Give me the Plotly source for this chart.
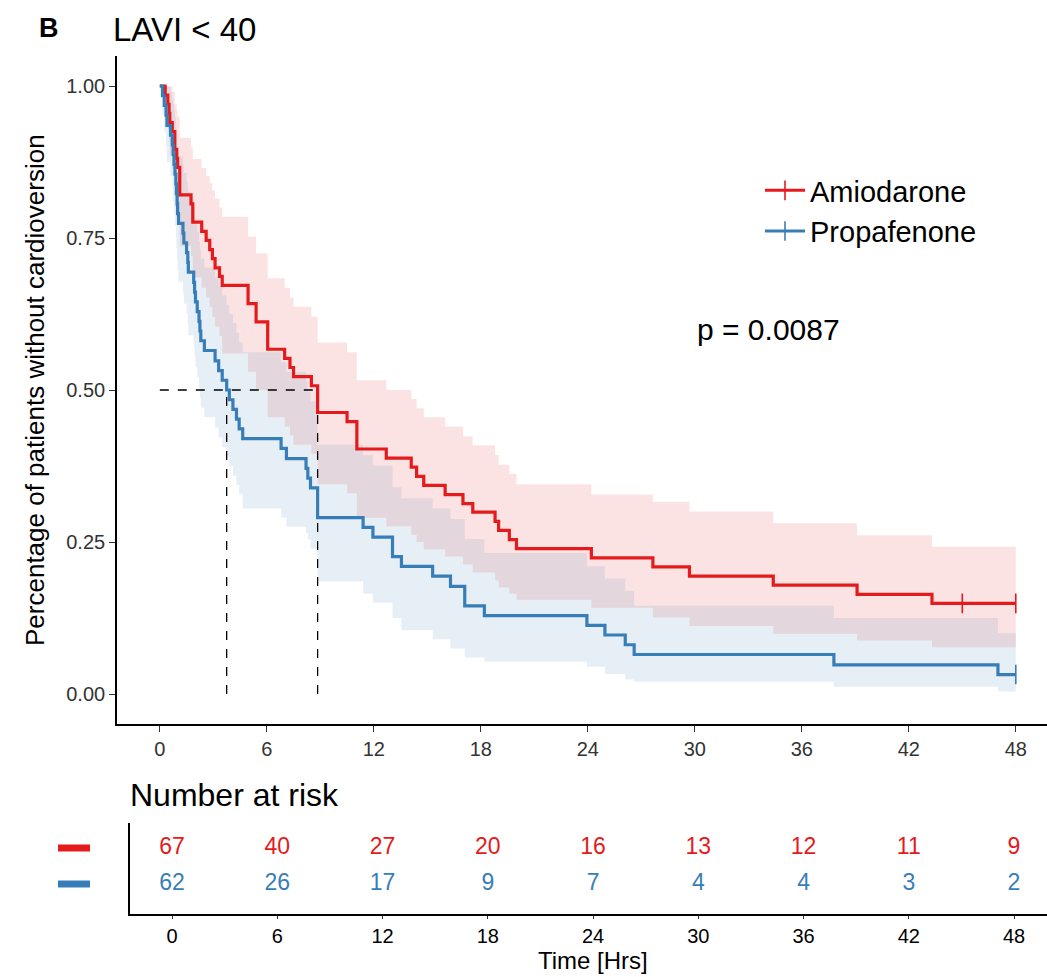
import plotly.graph_objects as go

# ---------------- data ----------------
groups = ["Amiodarone", "Propafenone"]

amio_time = [0, 0.30, 0.45, 0.52, 0.56, 0.70, 0.84, 0.95, 1.00, 1.12, 1.75, 1.85, 2.35, 2.60,
             2.80, 2.95, 3.10, 3.35, 3.50, 4.95, 5.40, 6.05, 7.00, 7.30, 7.50, 8.50, 8.85,
             10.50, 11.05, 12.70, 14.10, 14.40, 14.80, 16.00, 17.00, 17.55, 18.80, 19.00,
             19.60, 20.00, 24.20, 27.65, 29.70, 34.40, 39.10, 43.30, 48.00]
amio_surv = [1.000, 0.985, 0.970, 0.955, 0.940, 0.925, 0.896, 0.881, 0.866, 0.821, 0.806, 0.776,
             0.761, 0.746, 0.731, 0.716, 0.701, 0.687, 0.672, 0.642, 0.612, 0.567, 0.552, 0.537,
             0.522, 0.507, 0.463, 0.448, 0.403, 0.388, 0.373, 0.358, 0.343, 0.328, 0.313, 0.299,
             0.284, 0.269, 0.254, 0.239, 0.224, 0.209, 0.194, 0.179, 0.164, 0.149, 0.149]
amio_upper = [1.000, 1.000, 1.000, 1.000, 0.999, 0.990, 0.970, 0.960, 0.950, 0.915, 0.900, 0.880,
              0.865, 0.852, 0.840, 0.828, 0.815, 0.800, 0.785, 0.752, 0.725, 0.684, 0.668, 0.652,
              0.637, 0.621, 0.578, 0.562, 0.516, 0.500, 0.485, 0.470, 0.455, 0.440, 0.424, 0.409,
              0.393, 0.377, 0.362, 0.345, 0.328, 0.316, 0.300, 0.281, 0.261, 0.242, 0.242]
amio_lower = [1.000, 0.957, 0.930, 0.907, 0.886, 0.864, 0.826, 0.808, 0.790, 0.737, 0.720, 0.685,
              0.668, 0.652, 0.636, 0.620, 0.604, 0.589, 0.560, 0.530, 0.500, 0.455, 0.440, 0.425,
              0.410, 0.395, 0.345, 0.330, 0.290, 0.276, 0.262, 0.250, 0.238, 0.226, 0.213, 0.200,
              0.187, 0.175, 0.165, 0.155, 0.142, 0.126, 0.112, 0.099, 0.088, 0.077, 0.077]

prop_time = [0, 0.15, 0.25, 0.35, 0.40, 0.60, 0.70, 0.75, 0.80, 0.85, 0.90, 0.93, 0.97, 1.00,
             1.05, 1.30, 1.35, 1.50, 1.57, 1.60, 1.90, 1.95, 2.00, 2.10, 2.20, 2.25, 2.30, 2.50,
             3.10, 3.30, 3.50, 3.75, 3.90, 4.10, 4.30, 4.45, 4.65, 6.80, 7.10, 8.20, 8.30, 8.45,
             8.85, 11.40, 11.95, 13.05, 13.55, 15.30, 16.30, 17.10, 18.20, 23.95, 24.96, 26.10,
             26.60, 37.80, 47.00, 48.00]
prop_surv = [1.000, 0.984, 0.968, 0.952, 0.935, 0.919, 0.903, 0.887, 0.871, 0.855, 0.839, 0.823,
             0.806, 0.790, 0.774, 0.758, 0.742, 0.726, 0.710, 0.694, 0.677, 0.661, 0.645, 0.629,
             0.613, 0.597, 0.581, 0.565, 0.548, 0.532, 0.516, 0.500, 0.484, 0.468, 0.452, 0.436,
             0.420, 0.404, 0.387, 0.371, 0.355, 0.339, 0.290, 0.274, 0.258, 0.226, 0.210, 0.194,
             0.177, 0.145, 0.129, 0.113, 0.097, 0.081, 0.065, 0.048, 0.032, 0.032]
prop_upper = [1.000, 1.000, 1.000, 1.000, 0.999, 0.990, 0.980, 0.970, 0.960, 0.948, 0.935, 0.922,
              0.910, 0.897, 0.884, 0.870, 0.857, 0.843, 0.830, 0.816, 0.802, 0.788, 0.774, 0.760,
              0.745, 0.731, 0.716, 0.701, 0.686, 0.671, 0.656, 0.640, 0.625, 0.610, 0.594, 0.578,
              0.562, 0.546, 0.530, 0.514, 0.497, 0.481, 0.410, 0.393, 0.376, 0.340, 0.322, 0.305,
              0.288, 0.255, 0.232, 0.210, 0.190, 0.170, 0.145, 0.125, 0.100, 0.100]
prop_lower = [1.000, 0.953, 0.925, 0.900, 0.875, 0.852, 0.832, 0.810, 0.790, 0.770, 0.752, 0.733,
              0.714, 0.696, 0.678, 0.660, 0.642, 0.625, 0.607, 0.590, 0.572, 0.555, 0.538, 0.521,
              0.504, 0.488, 0.471, 0.455, 0.438, 0.422, 0.406, 0.390, 0.375, 0.359, 0.344, 0.329,
              0.305, 0.290, 0.275, 0.265, 0.254, 0.239, 0.185, 0.165, 0.150, 0.125, 0.105, 0.090,
              0.075, 0.060, 0.053, 0.045, 0.033, 0.024, 0.020, 0.012, 0.004, 0.004]

amio_censor = [45.0, 48.0]
prop_censor = [48.0]

risk_times = [0, 6, 12, 18, 24, 30, 36, 42, 48]
risk_amio = [67, 40, 27, 20, 16, 13, 12, 11, 9]
risk_prop = [62, 26, 17, 9, 7, 4, 4, 3, 2]

x_ticks = [0, 6, 12, 18, 24, 30, 36, 42, 48]
y_ticks = [0.0, 0.25, 0.5, 0.75, 1.0]
y_tick_text = ["0.00", "0.25", "0.50", "0.75", "1.00"]
p_text = "p = 0.0087"

# ---------------- style ----------------
RED = "#E41A1C"
BLUE = "#377EB8"
RED_FILL = "rgba(228,26,28,0.12)"
BLUE_FILL = "rgba(55,126,184,0.12)"
FONT = "Liberation Sans, Arial, sans-serif"
W, H = 1047, 977


def step_value(times, surv, t):
    v = surv[0]
    for ti, si in zip(times, surv):
        if ti <= t:
            v = si
    return v


def median_time(times, surv):
    for ti, si in zip(times, surv):
        if si <= 0.5:
            return ti
    return None


fig = go.Figure()

series = [
    ("Amiodarone", amio_time, amio_surv, amio_upper, amio_lower, amio_censor, RED, RED_FILL),
    ("Propafenone", prop_time, prop_surv, prop_upper, prop_lower, prop_censor, BLUE, BLUE_FILL),
]

# confidence bands
for name, t, s, up, lo, cen, col, fcol in series:
    fig.add_trace(go.Scatter(x=t, y=lo, mode="lines", line=dict(width=0, shape="hv"),
                             showlegend=False, hoverinfo="skip", xaxis="x", yaxis="y"))
    fig.add_trace(go.Scatter(x=t, y=up, mode="lines", line=dict(width=0, shape="hv"),
                             fill="tonexty", fillcolor=fcol, showlegend=False,
                             hoverinfo="skip", xaxis="x", yaxis="y"))

# median lines
meds = [median_time(t, s) for _, t, s, *_ in series]
med_max = max(meds)
fig.add_trace(go.Scatter(x=[0, med_max], y=[0.5, 0.5], mode="lines",
                         line=dict(color="black", width=1.3, dash="dash"),
                         showlegend=False, hoverinfo="skip"))
for m in meds:
    fig.add_trace(go.Scatter(x=[m, m], y=[0, 0.5], mode="lines",
                             line=dict(color="black", width=1.3, dash="dash"),
                             showlegend=False, hoverinfo="skip"))

# survival curves
for name, t, s, up, lo, cen, col, fcol in series:
    fig.add_trace(go.Scatter(x=t, y=s, mode="lines", line=dict(color=col, width=3.2, shape="hv"),
                             showlegend=False, name=name))
    fig.add_trace(go.Scatter(x=cen, y=[step_value(t, s, c) for c in cen], mode="markers",
                             marker=dict(symbol="line-ns-open", size=14, color=col,
                                         line=dict(color=col, width=1.6)),
                             showlegend=False, hoverinfo="skip"))

# legend entries
for name, t, s, up, lo, cen, col, fcol in series:
    fig.add_trace(go.Scatter(x=[None], y=[None], mode="lines+markers", name=name,
                             line=dict(color=col, width=3),
                             marker=dict(symbol="line-ns-open", size=14, color=col,
                                         line=dict(color=col, width=1.6)),
                             showlegend=True))

# risk table
for vals, col, yv in [(risk_amio, RED, 2), (risk_prop, BLUE, 1)]:
    fig.add_trace(go.Scatter(x=risk_times, y=[yv] * len(risk_times), mode="text",
                             text=[str(v) for v in vals],
                             textfont=dict(color=col, size=23, family=FONT),
                             showlegend=False, hoverinfo="skip", xaxis="x2", yaxis="y2"))

fig.update_layout(
    width=W, height=H, autosize=False,
    margin=dict(l=0, r=0, t=0, b=0),
    paper_bgcolor="white", plot_bgcolor="white",
    font=dict(family=FONT, color="black"),
    xaxis=dict(domain=[117 / W, 1], range=[-2.4, 49.75], tickvals=x_ticks,
               ticks="outside", ticklen=6, tickwidth=1.2, tickcolor="#333",
               showline=True, linecolor="black", linewidth=1.6, showgrid=False, zeroline=False,
               tickfont=dict(size=20, color="#333", family=FONT), anchor="y"),
    yaxis=dict(domain=[1 - 724.4 / H, 1 - 55.6 / H], range=[-0.05, 1.05],
               tickvals=y_ticks, ticktext=y_tick_text,
               ticks="outside", ticklen=6, tickwidth=1.2, tickcolor="#333",
               showline=True, linecolor="black", linewidth=1.6, showgrid=False, zeroline=False,
               tickfont=dict(size=20, color="#333", family=FONT), anchor="x"),
    xaxis2=dict(domain=[130 / W, 1], range=[-2.4, 49.88], tickvals=x_ticks,
                ticks="outside", ticklen=3, tickwidth=1.2, tickcolor="#333",
                showline=True, linecolor="black", linewidth=1.6, showgrid=False, zeroline=False,
                tickfont=dict(size=20, color="black", family=FONT), anchor="y2"),
    yaxis2=dict(domain=[1 - 914 / H, 1 - 823 / H], range=[0.167, 2.694],
                showticklabels=False, ticks="", showline=True, linecolor="black", linewidth=1.6,
                showgrid=False, zeroline=False, anchor="x2"),
    legend=dict(x=760 / W, y=1 - 165 / H, xanchor="left", yanchor="top",
                font=dict(size=29, family=FONT, color="black"), traceorder="normal",
                bgcolor="rgba(0,0,0,0)", itemwidth=40, tracegroupgap=0),
    showlegend=True,
)

annotations = [
    dict(text="<b>B</b>", x=37 / W, y=1 - 28 / H, xref="paper", yref="paper",
         xanchor="left", yanchor="middle", showarrow=False, font=dict(size=27, family=FONT)),
    dict(text="LAVI &lt; 40", x=111 / W, y=1 - 30 / H, xref="paper", yref="paper",
         xanchor="left", yanchor="middle", showarrow=False, font=dict(size=33, family=FONT)),
    dict(text="Percentage of patients without cardioversion", x=35 / W, y=0.5, xref="paper",
         yref="y", textangle=-90, xanchor="center", yanchor="middle", showarrow=False,
         font=dict(size=26, family=FONT)),
    dict(text=p_text, x=30.0, y=0.60, xref="x", yref="y", xanchor="left", yanchor="middle",
         showarrow=False, font=dict(size=30, family=FONT)),
    dict(text="Number at risk", x=128 / W, y=1 - 795 / H, xref="paper", yref="paper",
         xanchor="left", yanchor="middle", showarrow=False, font=dict(size=32, family=FONT)),
    dict(text="Time [Hrs]", x=24, y=0, xref="x2", yref="paper",
         xanchor="center", yanchor="bottom", yshift=1, showarrow=False,
         font=dict(size=24, family=FONT)),
]
fig.update_layout(annotations=annotations)

# risk table group keys
for col, yv in [(RED, 2), (BLUE, 1)]:
    fig.add_shape(type="line", xref="paper", yref="y2", x0=58 / W, x1=90 / W, y0=yv, y1=yv,
                  line=dict(color=col, width=7))

fig.write_html("out.html")
